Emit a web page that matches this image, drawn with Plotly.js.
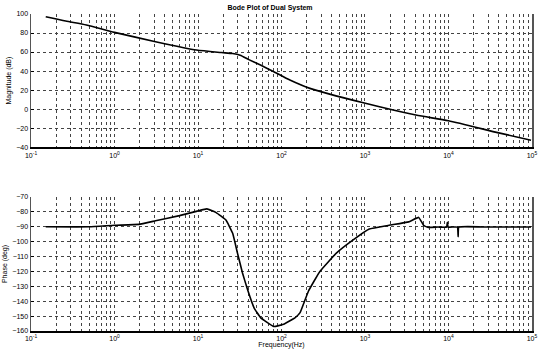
<!DOCTYPE html>
<html>
<head>
<meta charset="utf-8">
<script src="https://cdn.plot.ly/plotly-3.0.1.min.js"></script>
<style>html,body{margin:0;padding:0;background:#fff;}#chart{width:540px;height:349px;}</style>
</head>
<body>
<div id="chart"></div>
<script>
// Magnitude (dB) vs frequency (Hz)
const magFreq = [0.15, 0.26, 0.46, 1.0, 3.1, 9.6, 19, 26, 32, 40, 56, 81, 126, 219, 955, 4070, 10000, 40000, 97500];
const magDb   = [97.2, 92.6, 88.4, 80.7, 70.9, 62.1, 59.5, 58.4, 56.5, 52.3, 46.3, 39.3, 30.5, 21.8, 6.6, -6.3, -12.3, -25, -32.7];

// Phase (deg) vs frequency (Hz)
const phFreq = [0.15, 0.5, 1.0, 1.95, 3.1, 6.0, 9.8, 12.8, 16.5, 21.6, 26, 29.7, 34.1, 39.1, 46.9, 56.1, 80.9, 106, 146, 167, 210, 288, 454, 715, 1125, 1940, 3340, 4400, 5040, 5770, 7500, 9500, 9700, 9900, 12800, 13060, 13300, 30000, 97500];
const phDeg  = [-90, -90, -89, -88.4, -86, -82.5, -79.5, -78, -80.5, -85.5, -94.4, -107.7, -121, -132, -144.4, -151, -157, -155.5, -151, -147.7, -133.3, -120, -107.7, -99, -91.5, -89, -86.7, -83.7, -89, -90.4, -90.2, -90.2, -87, -90.2, -90.2, -96.7, -90.2, -90.2, -90.2];

const decades = [-1, 0, 1, 2, 3, 4, 5];
const decadeLabels = ['10<sup>-1</sup>', '10<sup>0</sup>', '10<sup>1</sup>', '10<sup>2</sup>', '10<sup>3</sup>', '10<sup>4</sup>', '10<sup>5</sup>'];
const magTicks = [-40, -20, 0, 20, 40, 60, 80, 100];
const phTicks = [-160, -150, -140, -130, -120, -110, -100, -90, -80, -70];

// build log grid tick positions (1..9 per decade) from the decade list
const tv = [], tt = [];
decades.forEach((d, i) => {
  for (let m = 1; m <= 9; m++) {
    if (d === 5 && m > 1) break;
    tv.push(m * Math.pow(10, d));
    tt.push(m === 1 ? decadeLabels[i] : '');
  }
});

const font = {family: 'Liberation Sans, Arial, sans-serif', size: 7, color: '#000'};

function xax(anchor, title) {
  return {
    type: 'log', range: [-1.0005, 5.0005], anchor: anchor,
    tickvals: tv, ticktext: tt, ticks: '', tickfont: font, ticklabeloverflow: 'allow',
    showgrid: true, gridcolor: '#444', griddash: 'dot', gridwidth: 1,
    showline: true, linecolor: '#000', linewidth: 2, mirror: false,
    zeroline: false,
    title: title ? {text: title, font: font, standoff: 2} : undefined
  };
}
function yax(anchor, domain, range, ticks, title) {
  return {
    domain: domain, range: range, anchor: anchor,
    tickvals: ticks, ticks: 'inside', ticklen: 3, tickcolor: '#000', tickfont: font,
    showgrid: true, gridcolor: '#444', griddash: 'dot', gridwidth: 1,
    showline: true, linecolor: '#555', linewidth: 1.5, mirror: true,
    zeroline: false,
    title: {text: title, font: font, standoff: 4}
  };
}

const data = [
  {x: magFreq, y: magDb, type: 'scatter', mode: 'lines', line: {color: '#000', width: 1.6, shape: 'spline', smoothing: 0.6}, xaxis: 'x', yaxis: 'y', hoverinfo: 'skip'},
  {x: phFreq, y: phDeg, type: 'scatter', mode: 'lines', line: {color: '#000', width: 1.6, shape: 'spline', smoothing: 0.3}, xaxis: 'x2', yaxis: 'y2', hoverinfo: 'skip'}
];

const layout = {
  width: 540, height: 349,
  margin: {l: 31, r: 8, t: 14, b: 18},
  paper_bgcolor: '#fff', plot_bgcolor: '#fff',
  showlegend: false,
  title: {text: '<b>Bode Plot of Dual System</b>', font: {family: 'Liberation Sans, Arial, sans-serif', size: 7, color: '#000'}, x: 0.5, xanchor: 'center', y: 0.985, yanchor: 'top'},
  xaxis: xax('y', null),
  yaxis: yax('x', [0.58, 1], [-40, 100], magTicks, 'Magnitude (dB)'),
  xaxis2: xax('y2', 'Frequency(Hz)'),
  yaxis2: yax('x2', [0, 0.4227], [-160, -70], phTicks, 'Phase (deg)')
};

Plotly.newPlot('chart', data, layout, {staticPlot: true, displayModeBar: false});
</script>
</body>
</html>
